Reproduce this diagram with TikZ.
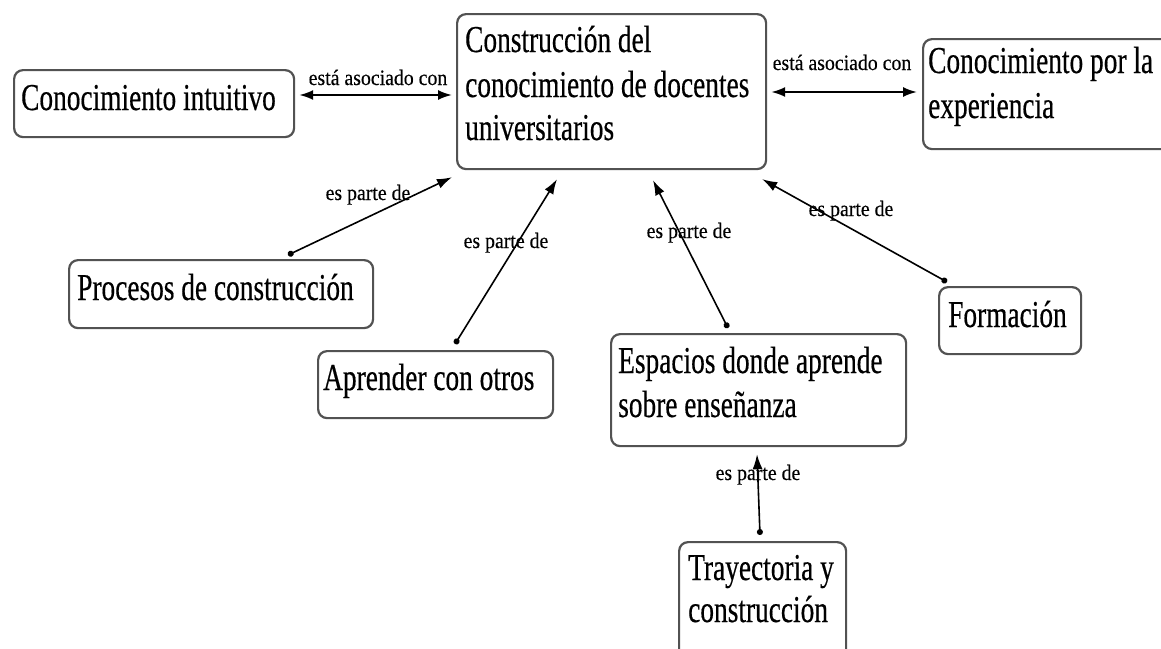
\documentclass[tikz,border=0pt]{standalone}
\usepackage{fontspec}
\setmainfont{Liberation Serif}
\newfontfamily\boxfont[FakeStretch=0.72,FakeBold=0.4]{Liberation Serif}
\newfontfamily\labfont[FakeStretch=0.9,FakeBold=0.3]{Liberation Serif}
\usetikzlibrary{arrows.meta,calc}
\tikzset{
  concept/.style={draw=black!68, line width=2.2pt, rounded corners=9pt, anchor=north west, inner sep=0pt, fill=white},
  btext/.style={anchor=base west, inner sep=0pt, font=\boxfont\fontsize{38}{44}\selectfont},
  lab/.style={anchor=base, inner sep=0pt, font=\labfont\fontsize{22}{26}\selectfont},
  assoc/.style={line width=2pt, {Latex[length=14pt,width=10pt]}-{Latex[length=14pt,width=10pt]}},
  part/.style={line width=1.6pt, {Circle[length=6pt]}-{Latex[length=15pt,width=10pt]}}
}
\begin{document}
\begin{tikzpicture}[x=1pt,y=-1pt]
\useasboundingbox (0,0) rectangle (1161,648);
\clip (0,0) rectangle (1161,648);
\fill[white] (0,0) rectangle (1161,648);
% boxes
\node[concept, minimum width=280pt, minimum height=67pt] (intu) at (13,69) {};
\node[concept, minimum width=309pt, minimum height=155pt] (cent) at (456,13) {};
\node[concept, minimum width=253pt, minimum height=110pt] (expe) at (922,38) {};
\node[concept, minimum width=304pt, minimum height=68pt] (proc) at (68,259) {};
\node[concept, minimum width=235pt, minimum height=67pt] (apre) at (317,350) {};
\node[concept, minimum width=295pt, minimum height=112pt] (espa) at (610,333) {};
\node[concept, minimum width=142pt, minimum height=67pt] (form) at (938,286) {};
\node[concept, minimum width=167pt, minimum height=124pt] (tray) at (678,541) {};
% texts
\node[btext] (tintu) at (21,110) {Conocimiento intuitivo};
\node[btext] (tcenta) at (465,52) {Construcción del};
\node[btext] (tcentb) at (465,97) {conocimiento de docentes};
\node[btext] (tcentc) at (465,140) {universitarios};
\node[btext] (texpea) at (928,73) {Conocimiento por la};
\node[btext] (texpeb) at (928,118) {experiencia};
\node[btext] (tproc) at (77,300) {Procesos de construcción};
\node[btext] (tapre) at (323,390) {Aprender con otros};
\node[btext] (tespaa) at (618,373) {Espacios donde aprende};
\node[btext] (tespab) at (618,417) {sobre enseñanza};
\node[btext] (tform) at (948,327) {Formación};
\node[btext] (ttraya) at (688,580) {Trayectoria y};
\node[btext] (ttrayb) at (688,622) {construcción};
% labels
\node[lab] (l1) at (378,85) {está asociado con};
\node[lab] (l2) at (842,70) {está asociado con};
\node[lab] (l3) at (368,200) {es parte de};
\node[lab] (l4) at (506,248) {es parte de};
\node[lab] (l5) at (689,238) {es parte de};
\node[lab] (l6) at (851,216) {es parte de};
\node[lab] (l7) at (758,480) {es parte de};
% connectors
\draw[assoc] ($(intu.north east)+(4,26)$) -- ($(cent.north west)+(-4,82)$);
\draw[assoc] ($(cent.north east)+(4,79)$) -- ($(expe.north west)+(-5,54)$);
\draw[part] ($(proc.north west)+(220,-4)$) -- ($(cent.south west)+(-4,7)$);
\draw[part] ($(apre.north west)+(138,-6)$) -- ($(cent.south west)+(101,9)$);
\draw[part] ($(espa.north west)+(118,-5)$) -- ($(cent.south west)+(197,10)$);
\draw[part] ($(form.north west)+(9,-4)$) -- ($(cent.south east)+(-5,9)$);
\draw[part] ($(tray.north west)+(82,-6)$) -- ($(espa.south west)+(147,7)$);
\end{tikzpicture}
\end{document}
